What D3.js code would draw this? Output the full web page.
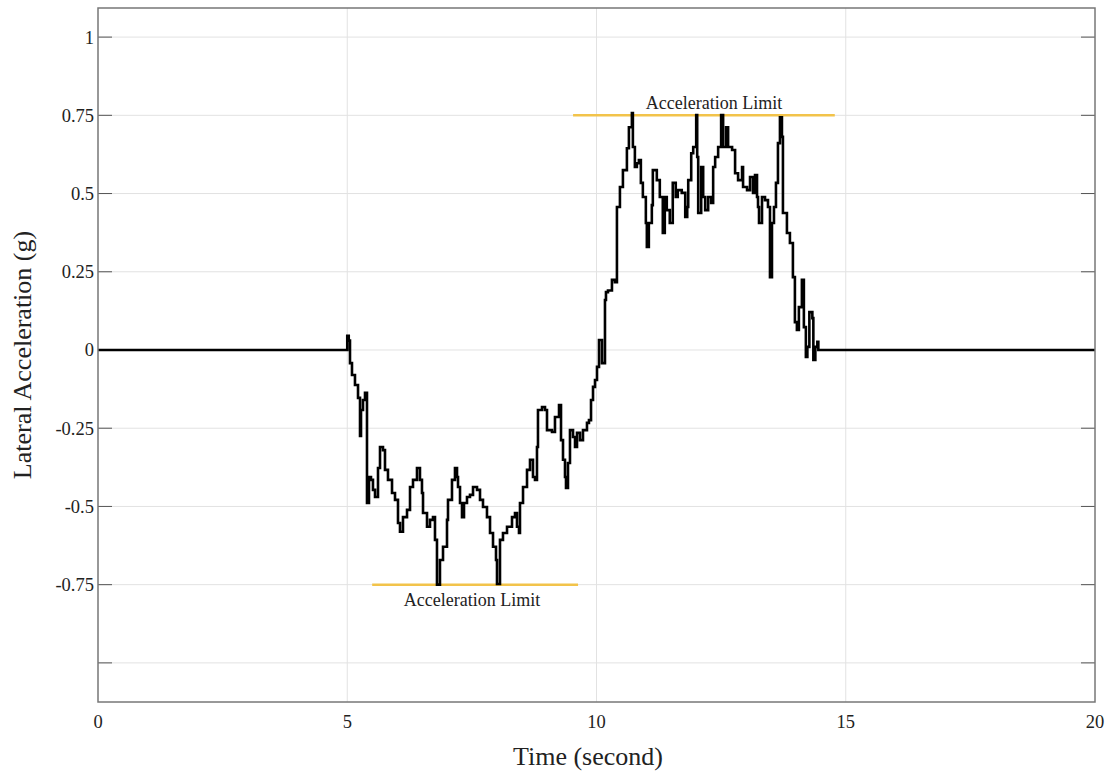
<!DOCTYPE html>
<html>
<head>
<meta charset="utf-8">
<script src="https://cdn.jsdelivr.net/npm/d3@7"></script>
<style>
  html, body { margin: 0; padding: 0; background: #fff; }
  svg { display: block; }
  text { font-family: "Liberation Serif", "Times New Roman", serif; fill: #222; }
</style>
</head>
<body>
<svg id="chart" width="1112" height="775"></svg>
<script>
// Sampled lateral acceleration of the vehicle (time in s, acceleration in g)
const timeSec = [
  0, 4.98, 5.0, 5.03, 5.055, 5.095, 5.155, 5.216, 5.256, 5.276, 5.316, 5.356, 5.396,
  5.436, 5.476, 5.516, 5.557, 5.617, 5.657, 5.717, 5.757, 5.817, 5.898, 5.958, 6.018,
  6.058, 6.118, 6.199, 6.259, 6.319, 6.399, 6.459, 6.499, 6.52, 6.6, 6.66, 6.72, 6.76,
  6.8, 6.86, 6.921, 7.001, 7.021, 7.101, 7.161, 7.202, 7.222, 7.262, 7.302, 7.342,
  7.402, 7.462, 7.523, 7.603, 7.663, 7.723, 7.803, 7.864, 7.924, 7.984, 8.004, 8.064,
  8.124, 8.205, 8.305, 8.365, 8.405, 8.445, 8.465, 8.526, 8.606, 8.666, 8.726, 8.766,
  8.806, 8.826, 8.907, 8.967, 9.007, 9.107, 9.167, 9.248, 9.288, 9.328, 9.368, 9.388,
  9.428, 9.468, 9.529, 9.569, 9.609, 9.669, 9.729, 9.809, 9.849, 9.89, 9.93, 9.97,
  10.01, 10.05, 10.11, 10.17, 10.19, 10.23, 10.31, 10.37, 10.41, 10.47, 10.53, 10.61,
  10.65, 10.71, 10.73, 10.77, 10.81, 10.85, 10.89, 10.93, 10.99, 11.01, 11.05, 11.11,
  11.13, 11.21, 11.27, 11.33, 11.37, 11.41, 11.47, 11.53, 11.59, 11.63, 11.71, 11.78,
  11.82, 11.84, 11.90, 11.94, 12.0, 12.02, 12.04, 12.10, 12.14, 12.18, 12.24, 12.30,
  12.34, 12.38, 12.44, 12.50, 12.54, 12.60, 12.64, 12.72, 12.78, 12.84, 12.92, 12.94,
  13.02, 13.08, 13.14, 13.18, 13.22, 13.24, 13.26, 13.32, 13.38, 13.44, 13.48, 13.52,
  13.56, 13.60, 13.64, 13.68, 13.72, 13.74, 13.82, 13.88, 13.94, 13.98, 14.02, 14.06,
  14.12, 14.16, 14.20, 14.23, 14.27, 14.33, 14.35, 14.39, 14.43, 14.45, 20
];
const accelG = [
  0, 0, 0.045, 0.03, -0.042, -0.08, -0.112, -0.153, -0.275, -0.192, -0.16, -0.137, -0.489,
  -0.406, -0.415, -0.447, -0.47, -0.377, -0.31, -0.32, -0.383, -0.415, -0.457, -0.479, -0.553,
  -0.581, -0.534, -0.511, -0.438, -0.415, -0.377, -0.415, -0.457, -0.521, -0.565, -0.543, -0.534, -0.607,
  -0.75, -0.671, -0.629, -0.543, -0.479, -0.415, -0.377, -0.406, -0.438, -0.489, -0.534, -0.489,
  -0.47, -0.463, -0.438, -0.447, -0.479, -0.502, -0.534, -0.585, -0.629, -0.671, -0.748, -0.607,
  -0.585, -0.565, -0.534, -0.521, -0.565, -0.585, -0.489, -0.438, -0.383, -0.351, -0.406, -0.415,
  -0.31, -0.192, -0.182, -0.192, -0.256, -0.262, -0.214, -0.176, -0.288, -0.351, -0.406, -0.441,
  -0.361, -0.256, -0.278, -0.31, -0.265, -0.288, -0.256, -0.233, -0.224, -0.16, -0.118, -0.096,
  -0.054, 0.032, -0.042, 0.16, 0.185, 0.19, 0.224, 0.217, 0.457, 0.521, 0.575, 0.645,
  0.712, 0.757, 0.649, 0.585, 0.597, 0.607, 0.534, 0.489, 0.406, 0.329, 0.406, 0.463,
  0.575, 0.543, 0.489, 0.374, 0.489, 0.447, 0.406, 0.534, 0.489, 0.511, 0.502, 0.425,
  0.457, 0.543, 0.629, 0.649, 0.751, 0.617, 0.438, 0.585, 0.489, 0.447, 0.489, 0.47,
  0.585, 0.617, 0.649, 0.751, 0.649, 0.712, 0.649, 0.639, 0.565, 0.543, 0.585, 0.521,
  0.511, 0.553, 0.502, 0.559, 0.489, 0.457, 0.406, 0.489, 0.479, 0.457, 0.233, 0.406,
  0.457, 0.534, 0.661, 0.744, 0.681, 0.438, 0.374, 0.342, 0.233, 0.089, 0.064, 0.137,
  0.224, 0.073, -0.022, 0.01, 0.121, 0.102, -0.032, 0.01, 0.026, 0, 0
];

// Acceleration limit markers
const limitValues = [0.75, -0.75];
const limitStart = [9.53, 5.5];
const limitEnd = [14.78, 9.63];
const limitLabel = ["Acceleration Limit", "Acceleration Limit"];

// Axis ticks
const xTicks = [0, 5, 10, 15, 20];
const yTicks = [1, 0.75, 0.5, 0.25, 0, -0.25, -0.5, -0.75, -1];
const yTickLabels = ["1", "0.75", "0.5", "0.25", "0", "-0.25", "-0.5", "-0.75", ""];

const svg = d3.select("#chart");
const plotLeft = 98, plotRight = 1095, plotTop = 8, plotBottom = 702;

const x = d3.scaleLinear().domain([0, 20]).range([plotLeft, plotRight]);
const y = d3.scaleLinear().domain([-1.125, 1.093]).range([plotBottom, plotTop]);

// Grid
const grid = svg.append("g").attr("stroke", "#e2e2e2").attr("stroke-width", 1);
grid.selectAll("line.h").data(yTicks).join("line")
  .attr("x1", plotLeft).attr("x2", plotRight)
  .attr("y1", d => y(d)).attr("y2", d => y(d));
grid.selectAll("line.v").data(xTicks.slice(1, -1)).join("line")
  .attr("y1", plotTop).attr("y2", plotBottom)
  .attr("x1", d => x(d)).attr("x2", d => x(d));

// Inward tick marks on left and right
const tickG = svg.append("g").attr("stroke", "#555").attr("stroke-width", 1);
tickG.selectAll("line.l").data(yTicks).join("line")
  .attr("x1", plotLeft).attr("x2", plotLeft + 14)
  .attr("y1", d => y(d)).attr("y2", d => y(d));
tickG.selectAll("line.r").data(yTicks).join("line")
  .attr("x1", plotRight).attr("x2", plotRight - 14)
  .attr("y1", d => y(d)).attr("y2", d => y(d));

// Tick labels
svg.append("g").selectAll("text").data(yTicks).join("text")
  .attr("x", plotLeft - 4).attr("y", d => y(d)).attr("dy", "0.35em")
  .attr("text-anchor", "end").attr("font-size", 18.5)
  .text((d, i) => yTickLabels[i]);
svg.append("g").selectAll("text").data(xTicks).join("text")
  .attr("x", d => x(d)).attr("y", 722).attr("dy", "0.35em")
  .attr("text-anchor", "middle").attr("font-size", 18.5)
  .text(d => d);

// Axis titles
svg.append("text").attr("x", 588).attr("y", 765)
  .attr("text-anchor", "middle").attr("font-size", 26).text("Time (second)");
svg.append("text")
  .attr("transform", `translate(31, ${(plotTop + plotBottom) / 2}) rotate(-90)`)
  .attr("text-anchor", "middle").attr("font-size", 26).text("Lateral Acceleration (g)");

// Limit lines
svg.append("g").selectAll("line").data(limitValues).join("line")
  .attr("x1", (d, i) => x(limitStart[i])).attr("x2", (d, i) => x(limitEnd[i]))
  .attr("y1", d => y(d)).attr("y2", d => y(d))
  .attr("stroke", "#f2c34a").attr("stroke-width", 2.5);

// Signal
const pts = timeSec.map((t, i) => [t, accelG[i]]);
svg.append("path").datum(pts)
  .attr("fill", "none").attr("stroke", "#000").attr("stroke-width", 2.6)
  .attr("stroke-linejoin", "miter")
  .attr("d", d3.line().x(d => x(d[0])).y(d => y(d[1])).curve(d3.curveStepAfter));

// Limit labels
svg.append("g").selectAll("text").data(limitValues).join("text")
  .attr("x", (d, i) => d > 0 ? 714 : 472)
  .attr("y", d => d > 0 ? y(d) - 13 : y(d) + 15)
  .attr("dy", "0.35em").attr("text-anchor", "middle").attr("font-size", 18)
  .text((d, i) => limitLabel[i]);

// Frame
svg.append("rect").attr("x", plotLeft).attr("y", plotTop)
  .attr("width", plotRight - plotLeft).attr("height", plotBottom - plotTop)
  .attr("fill", "none").attr("stroke", "#777").attr("stroke-width", 1.5);
</script>
</body>
</html>
